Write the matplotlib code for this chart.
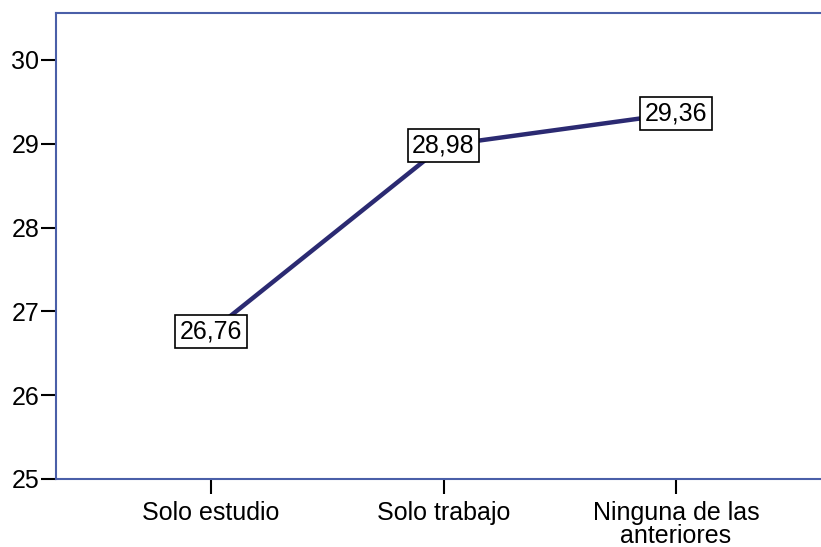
import matplotlib
matplotlib.use('Agg')

from matplotlib import pyplot as plt

# Data
categories = ["Solo estudio", "Solo trabajo", "Ninguna de las\nanteriores"]
means = [26.76, 28.98, 29.36]
y_ticks = [25, 26, 27, 28, 29, 30]

plt.rcParams['font.family'] = ['Liberation Sans', 'DejaVu Sans']

fig = plt.figure(figsize=(8.21, 5.47), dpi=100)
# axes run slightly past the right edge of the figure, like the original
ax = fig.add_axes([56 / 821, 68 / 547, (831 - 56) / 821, (479 - 13) / 547])

x = list(range(len(categories)))
ax.plot(x, means, color="#2b2a72", linewidth=3.2, zorder=2, solid_capstyle="butt")

# value labels in boxes centered on the points
for xi, v in zip(x, means):
    ax.text(xi, v, f"{v:.2f}".replace(".", ","), ha="center", va="center",
            fontsize=18, zorder=3,
            bbox=dict(boxstyle="square,pad=0.18", facecolor="white",
                      edgecolor="black", linewidth=1.2))

ax.set_xlim(-0.667, 2.667)
ax.set_ylim(25, 30.56)
ax.set_xticks(x)
ax.set_xticklabels(categories, fontsize=18, linespacing=0.95)
ax.set_yticks(y_ticks)
ax.set_yticklabels([str(t) for t in y_ticks], fontsize=18)

ax.tick_params(axis="both", direction="out", length=11, width=1.5, color="black")
ax.tick_params(axis="y", pad=1)
ax.tick_params(axis="x", pad=5)

for side in ["left", "top", "bottom"]:
    ax.spines[side].set_color("#4a5fa8")
    ax.spines[side].set_linewidth(1.5)
ax.spines["right"].set_visible(False)

plt.savefig("out.png", dpi=100)
plt.close()
